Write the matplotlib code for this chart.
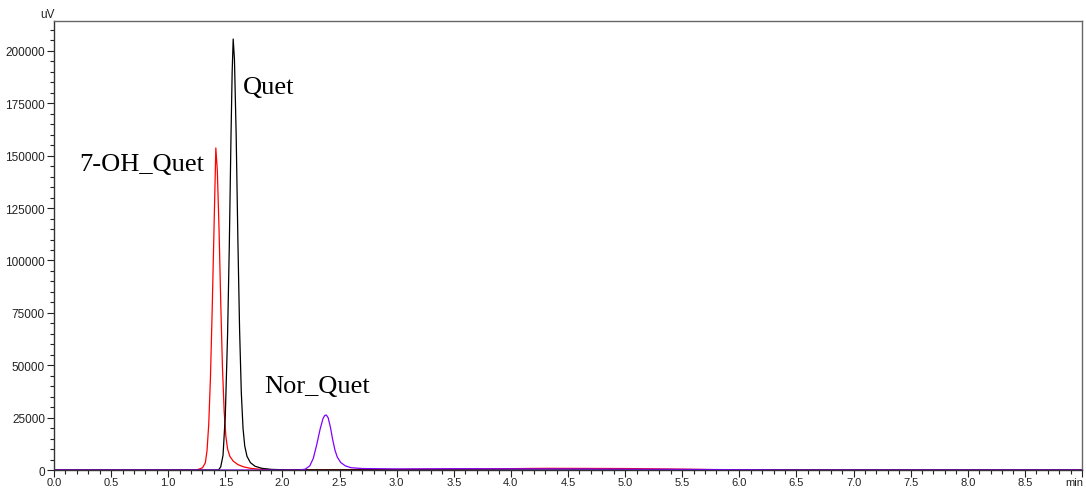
import matplotlib.pyplot as plt
import numpy as np
from matplotlib.ticker import MultipleLocator, FuncFormatter

# retention time (min) / signal (uV)
t_red = [0.0, 1.0, 1.25, 1.30, 1.325, 1.34, 1.355, 1.37, 1.385, 1.40, 1.417,
         1.43, 1.445, 1.46, 1.475, 1.49, 1.505, 1.52, 1.54, 1.57, 1.61, 1.66,
         1.72, 1.80, 1.95, 2.5, 3.0, 3.7, 4.3, 5.0, 5.5, 6.0, 9.0]
y_red = [0, 0, 0, 1050, 3400, 9300, 21900, 44200, 76200, 112500, 153700,
         143000, 115000, 80000, 49000, 28000, 16000, 10000, 6500, 4200, 2600, 1500,
         800, 350, 100, 150, 300, 500, 800, 700, 400, 0, 0]

t_black = [0.0, 1.44, 1.46, 1.48, 1.50, 1.52, 1.535, 1.55, 1.56, 1.569, 1.58,
           1.595, 1.61, 1.625, 1.64, 1.655, 1.67, 1.69, 1.72, 1.76, 1.82, 1.90,
           2.05, 9.0]
y_black = [0, 0, 1500, 7000, 26000, 65000, 107000, 160000, 190000, 205700, 196000,
           160000, 110000, 67000, 37000, 20000, 11500, 6500, 3500, 1800, 800, 300,
           50, 0]

t_purple = [0.0, 2.15, 2.20, 2.24, 2.27, 2.30, 2.33, 2.355, 2.37, 2.384, 2.40,
            2.42, 2.44, 2.46, 2.48, 2.51, 2.55, 2.60, 2.70, 3.0, 3.5, 4.5, 5.5,
            6.5, 9.0]
y_purple = [0, 0, 400, 2000, 5500, 12000, 19500, 24500, 26000, 26250, 25000,
            20500, 14500, 9500, 6200, 3600, 2000, 1100, 700, 500, 600, 500, 300,
            0, 0]

peak_names = ['7-OH_Quet', 'Quet', 'Nor_Quet']
label_pos = [(0.22, 146000), (1.65, 183000), (1.84, 40000)]

fig = plt.figure(figsize=(10.86, 4.89), dpi=100)
ax = fig.add_axes([0.0497, 0.0368, 0.9466, 0.9182])

ax.plot(t_red, y_red, color='#ff0000', lw=0.9)
ax.plot(t_black, y_black, color='black', lw=0.9)
ax.plot(t_purple, y_purple, color='#8000ff', lw=0.9)

for name, (x, y) in zip(peak_names, label_pos):
    ax.text(x, y, name, family='Liberation Serif', fontsize=19, va='center', ha='left')

ax.set_xlim(0, 9.0)
ax.set_ylim(0, 214300)
ax.xaxis.set_major_locator(MultipleLocator(0.5))
ax.xaxis.set_minor_locator(MultipleLocator(0.1))
ax.yaxis.set_major_locator(MultipleLocator(25000))
ax.yaxis.set_minor_locator(MultipleLocator(5000))
ax.xaxis.set_major_formatter(FuncFormatter(lambda v, p: f'{v:.1f}' if v < 8.9 else ''))
ax.yaxis.set_major_formatter(FuncFormatter(lambda v, p: f'{int(round(v))}'))

ax.tick_params(which='both', direction='out', labelsize=8.5, colors='#222222', width=0.8)
ax.tick_params(which='major', length=5, pad=1.5)
ax.tick_params(which='minor', length=3)
ax.tick_params(axis='x', which='major', labelsize=8, pad=0.3)
for lbl in ax.get_xticklabels() + ax.get_yticklabels():
    lbl.set_family('Liberation Sans')

ax.spines['left'].set_color('#333333')
ax.spines['bottom'].set_color('#333333')
ax.spines['top'].set_color('#666666')
ax.spines['right'].set_color('#666666')
for s in ax.spines.values():
    s.set_linewidth(1.0)

fig.text(0.044, 0.958, 'uV', family='Liberation Sans', fontsize=8.5, ha='center', va='bottom', color='#222222')
fig.text(0.989, 0.003, 'min', family='Liberation Sans', fontsize=8, ha='center', va='bottom', color='#222222')

fig.savefig('out.png', dpi=100)
